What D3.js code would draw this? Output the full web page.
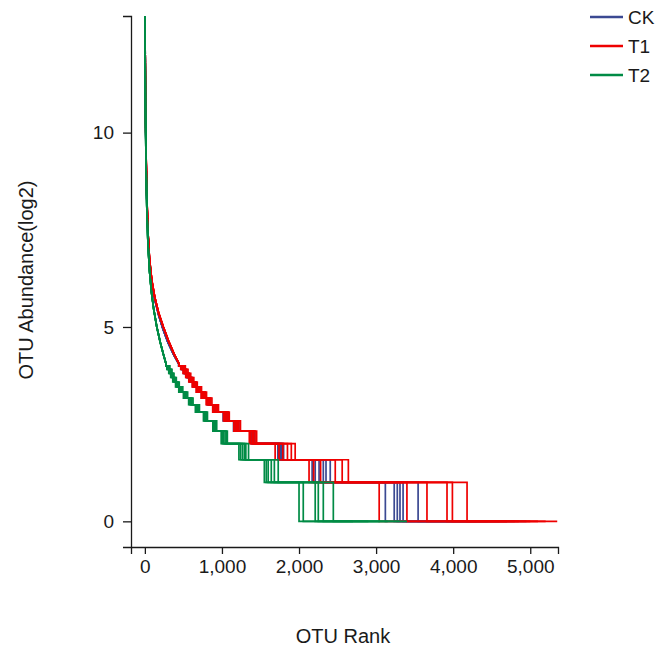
<!DOCTYPE html>
<html>
<head>
<meta charset="utf-8">
<script src="https://cdn.jsdelivr.net/npm/d3@7/dist/d3.min.js"></script>
<style>
  html, body { margin: 0; padding: 0; background: #ffffff; }
  svg { display: block; }
  text { font-family: "Liberation Sans", Arial, Helvetica, sans-serif; fill: #1a1a1a; }
</style>
</head>
<body>
<svg id="chart" width="664" height="657"></svg>
<script>
// ---------------- data ----------------
const groups = ["CK", "T1", "T2"];
const xTicks = [0, 1000, 2000, 3000, 4000, 5000];
const yTicks = [0, 5, 10];

// high-abundance head of each rank-abundance curve: [rank, log2 abundance]
const ckHead = [[1,13.3],[4,12],[8,10.7],[15,9.4],[25,8.3],[40,7.4],[60,6.7],[90,6.15],[130,5.7],[180,5.3],[235,4.95],[300,4.6],[375,4.28],[440,4.05]];
const t1Head = [[1,13.3],[4,12],[8,10.8],[15,9.5],[25,8.4],[40,7.45],[60,6.75],[90,6.2],[130,5.75],[180,5.35],[240,5.0],[305,4.65],[380,4.3],[445,4.05]];
const t2Head = [[1,13.3],[4,11.8],[8,10.5],[15,9.2],[25,8.1],[40,7.15],[60,6.45],[85,5.9],[115,5.45],[155,5.0],[200,4.6],[240,4.3],[275,4.05]];

// abundance levels (reads); for each level, last rank at that abundance, one value per sample
const levels = [16, 15, 14, 13, 12, 11, 10, 9, 8, 7, 6, 5, 4, 3, 2, 1];
const ckEnds = [
  [470, 478, 485, 492, 500, 508],
  [500, 508, 515, 522, 530, 540],
  [535, 542, 550, 558, 566, 575],
  [575, 582, 590, 598, 606, 615],
  [618, 626, 635, 643, 652, 662],
  [672, 680, 690, 698, 707, 717],
  [735, 745, 755, 763, 772, 782],
  [805, 815, 825, 833, 842, 852],
  [885, 895, 905, 915, 925, 940],
  [1015, 1030, 1040, 1052, 1065, 1080],
  [1150, 1165, 1180, 1190, 1205, 1220],
  [1380, 1390, 1395, 1405, 1410, 1420],
  [1725, 1740, 1755, 1770, 1785, 1800],
  [2170, 2210, 2260, 2315, 2350, 2405],
  [3120, 3235, 3275, 3310, 3350, 3545],
  [4300, 4450, 4600, 4700, 4800, 4950]
];
const t1Ends = [
  [465, 480, 490, 500, 510, 525],
  [495, 510, 520, 530, 545, 560],
  [530, 545, 555, 565, 580, 595],
  [570, 585, 595, 605, 620, 635],
  [615, 630, 640, 650, 665, 680],
  [665, 680, 695, 705, 720, 735],
  [730, 745, 760, 770, 785, 800],
  [795, 810, 825, 840, 855, 870],
  [880, 895, 910, 925, 940, 955],
  [1020, 1035, 1050, 1065, 1080, 1095],
  [1155, 1170, 1185, 1205, 1220, 1240],
  [1355, 1375, 1395, 1410, 1430, 1450],
  [1690, 1740, 1790, 1850, 1900, 1950],
  [2130, 2190, 2280, 2470, 2560, 2640],
  [3040, 3400, 3660, 3920, 3990, 4180],
  [4700, 4850, 5000, 5100, 5200, 5350]
];
const t2Ends = [
  [285, 293, 300, 308, 315, 325],
  [310, 318, 326, 334, 342, 352],
  [335, 343, 352, 360, 368, 378],
  [362, 372, 381, 390, 398, 408],
  [398, 408, 418, 426, 435, 446],
  [440, 452, 462, 470, 480, 492],
  [500, 512, 522, 532, 542, 555],
  [568, 580, 592, 602, 612, 625],
  [655, 665, 675, 685, 695, 708],
  [760, 770, 780, 790, 800, 812],
  [882, 892, 900, 910, 920, 932],
  [990, 1005, 1020, 1040, 1055, 1070],
  [1220, 1240, 1265, 1290, 1310, 1345],
  [1550, 1575, 1600, 1640, 1680, 1730],
  [2000, 2055, 2210, 2250, 2315, 2445],
  [2700, 2900, 3050, 3150, 3300, 3400]
];

const groupData = {
  CK: { head: ckHead, ends: ckEnds },
  T1: { head: t1Head, ends: t1Ends },
  T2: { head: t2Head, ends: t2Ends }
};
const colors = { CK: "#3B4992", T1: "#EE0000", T2: "#008B45" };

// ---------------- layout ----------------
const svg = d3.select("#chart");
const x = d3.scaleLinear().domain([-180, 5360]).range([131, 558]);
const y = d3.scaleLinear().domain([-0.66, 13.0]).range([547, 16]);

svg.append("defs").append("clipPath").attr("id", "plotclip")
  .append("rect").attr("x", 131).attr("y", 16).attr("width", 427).attr("height", 531);

// build vertices for each sample (head curve then abundance steps)
function sampleVertices(g, s) {
  const d = groupData[g];
  const pts = d.head.map(p => [p[0], p[1]]);
  let prev = d.head[d.head.length - 1][0];
  levels.forEach((k, j) => {
    const v = Math.log2(k);
    pts.push([prev, v]);
    pts.push([d.ends[j][s], v]);
    prev = d.ends[j][s];
  });
  return pts;
}

const line = d3.line().x(p => x(p[0])).y(p => y(p[1]));
const plot = svg.append("g").attr("clip-path", "url(#plotclip)");
groups.forEach(g => {
  const nSamples = groupData[g].ends[0].length;
  for (let s = 0; s < nSamples; s++) {
    plot.append("path")
      .attr("d", line(sampleVertices(g, s)))
      .attr("fill", "none")
      .attr("stroke", colors[g])
      .attr("stroke-width", 1.7)
      .attr("stroke-linejoin", "miter");
  }
});

// axes
const xAxis = d3.axisBottom(x).tickValues(xTicks).tickFormat(d3.format(",")).tickSizeOuter(0).tickSize(7).tickPadding(6);
const yAxis = d3.axisLeft(y).tickValues(yTicks).tickSizeOuter(0).tickSize(8).tickPadding(9);

const gx = svg.append("g").attr("transform", "translate(0,547)").call(xAxis);
const gy = svg.append("g").attr("transform", "translate(131,0)").call(yAxis);
[gx, gy].forEach(a => {
  a.select(".domain").attr("stroke", "#1a1a1a").attr("stroke-width", 1.3);
  a.selectAll(".tick line").attr("stroke", "#1a1a1a").attr("stroke-width", 1.3);
  a.selectAll(".tick text").attr("font-size", 19).attr("fill", "#1a1a1a")
    .attr("font-family", "'Liberation Sans', Arial, sans-serif");
});

// axis titles
svg.append("text").attr("x", 343).attr("y", 643).attr("text-anchor", "middle")
  .attr("font-size", 20).text("OTU Rank");
svg.append("text").attr("transform", "translate(33,280) rotate(-90)")
  .attr("text-anchor", "middle").attr("font-size", 20).text("OTU Abundance(log2)");

// legend
const legendY = [17, 46, 75];
groups.forEach((g, i) => {
  svg.append("line").attr("x1", 590).attr("x2", 623)
    .attr("y1", legendY[i]).attr("y2", legendY[i])
    .attr("stroke", colors[g]).attr("stroke-width", 2.5);
  svg.append("text").attr("x", 628).attr("y", legendY[i]).attr("dy", "0.36em")
    .attr("font-size", 19).text(g);
});
</script>
</body>
</html>
